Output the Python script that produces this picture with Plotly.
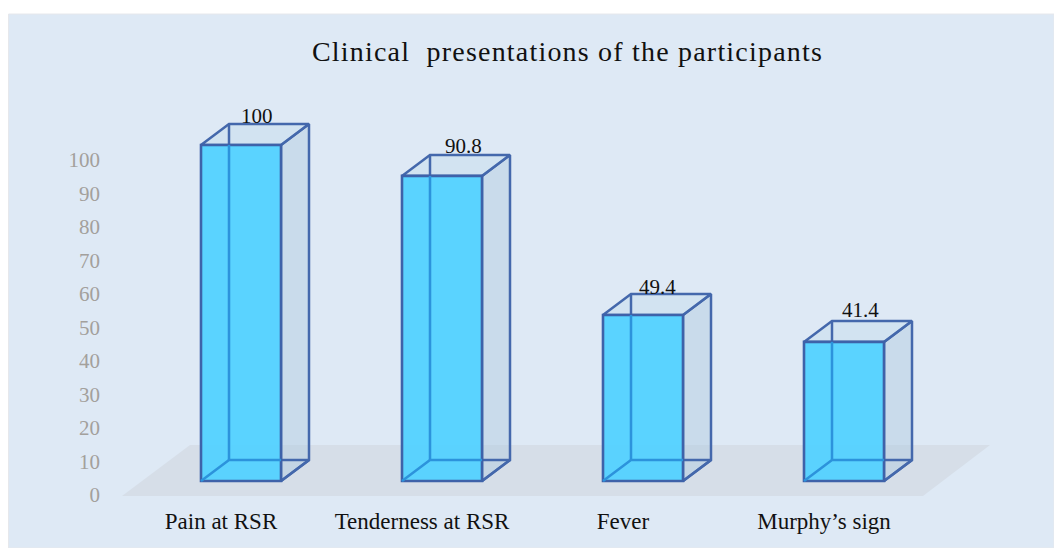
import plotly.graph_objects as go

categories = ["Pain at RSR", "Tenderness at RSR", "Fever", "Murphy’s sign"]
values = [100, 90.8, 49.4, 41.4]
value_labels = ["100", "90.8", "49.4", "41.4"]
y_ticks = [0, 10, 20, 30, 40, 50, 60, 70, 80, 90, 100]

W, H = 1054, 548
PX_X = 201.0      # pixels per category
PX_Y = 3.36       # pixels per value unit
X0 = 241.0        # pixel of first bar centre
Y0 = 481.0        # pixel of value 0
BAR_W = 80 / PX_X
DX = 28 / PX_X    # depth offset, x units
DY = 21 / PX_Y    # depth offset, y units

x_range = [-X0 / PX_X, (W - X0) / PX_X]
y_range = [(Y0 - H) / PX_Y, Y0 / PX_Y]
x_range_ticks = [-(X0 - 20) / PX_X, (W - X0 + 20) / PX_X]
TICK_Y0, TICK_PX = 495.0, 3.35
y_range_ticks = [(TICK_Y0 - H) / TICK_PX, TICK_Y0 / TICK_PX]

EDGE = "#4468AC"
INNER = "#2C93DC"
fig = go.Figure()

# back / side / top faces
for i, v in enumerate(values):
    l, r = i - BAR_W / 2, i + BAR_W / 2
    fig.add_trace(go.Scatter(
        x=[r, r + DX, r + DX, r, r], y=[0, DY, v + DY, v, 0], mode="lines", fill="toself",
        fillcolor="rgba(172,200,222,0.42)", line=dict(color=EDGE, width=2.5), hoverinfo="skip", showlegend=False))
    fig.add_trace(go.Scatter(
        x=[l, l + DX, r + DX, r, l], y=[v, v + DY, v + DY, v, v], mode="lines", fill="toself",
        fillcolor="rgba(195,220,238,0.45)", line=dict(color=EDGE, width=2.5), hoverinfo="skip", showlegend=False))
    fig.add_trace(go.Scatter(
        x=[l + DX, l + DX, None, r, r + DX, None, r, r + DX], y=[v + DY, DY, None, 0, DY, None, DY, DY], mode="lines",
        line=dict(color=EDGE, width=2.5), hoverinfo="skip", showlegend=False))

# front faces
fig.add_trace(go.Bar(
    x=list(range(len(values))), y=values, width=BAR_W, xaxis="x2", yaxis="y2",
    marker=dict(color="rgba(84,209,255,0.96)", line=dict(color="#3E62A9", width=2.6)),
    hoverinfo="skip", showlegend=False))

# back edges seen through the front face
for i, v in enumerate(values):
    l, r = i - BAR_W / 2, i + BAR_W / 2
    fig.add_trace(go.Scatter(
        x=[l + DX, l + DX, None, l, l + DX, r], y=[v, DY, None, 0, DY, DY], mode="lines",
        line=dict(color=INNER, width=2.5), xaxis="x2", yaxis="y2", hoverinfo="skip", showlegend=False))

# tick axes (offset from the bar plane, as in the perspective drawing)
fig.add_trace(go.Scatter(
    x=[0, 3], y=[0, 100], mode="lines", line=dict(color="rgba(0,0,0,0)"),
    xaxis="x3", yaxis="y3", hoverinfo="skip", showlegend=False))

hidden = dict(visible=False, showgrid=False, zeroline=False, fixedrange=True)
fig.update_layout(
    width=W, height=H,
    margin=dict(l=0, r=0, t=0, b=0),
    paper_bgcolor="#FFFFFF", plot_bgcolor="rgba(0,0,0,0)",
    showlegend=False, barmode="overlay",
    xaxis=dict(range=x_range, domain=[0, 1], **hidden),
    yaxis=dict(range=y_range, domain=[0, 1], **hidden),
    xaxis2=dict(range=x_range, domain=[0, 1], overlaying="x", anchor="y2", **hidden),
    yaxis2=dict(range=y_range, domain=[0, 1], overlaying="y", anchor="x2", **hidden),
    xaxis3=dict(range=x_range_ticks, domain=[0, 1], overlaying="x", anchor="free",
                position=1 - 505 / H, side="bottom", tickmode="array",
                tickvals=list(range(len(categories))), ticktext=categories,
                showgrid=False, zeroline=False, showline=False, ticks="", ticklen=0,
                tickfont=dict(family="Liberation Serif", size=23, color="#111111")),
    yaxis3=dict(range=y_range_ticks, domain=[0, 1], overlaying="y", anchor="free",
                position=100 / W, side="left", tickmode="array", tickvals=y_ticks,
                showgrid=False, zeroline=False, showline=False, ticks="",
                tickfont=dict(family="Liberation Serif", size=21, color="#A3A09C")),
    shapes=[
        dict(type="rect", xref="paper", yref="paper", x0=8.5 / W, x1=1.0, y0=0, y1=1 - 14 / H,
             fillcolor="#DEE9F5", line=dict(color="#E6E8EC", width=1), layer="below"),
        dict(type="path", xref="paper", yref="paper", layer="below", line=dict(width=0),
             fillcolor="#D6DEE8",
             path=f"M {122/W} {1-496/H} L {190/W} {1-445/H} L {990/W} {1-445/H} L {923/W} {1-496/H} Z"),
    ],
    title=dict(text="Clinical  presentations of the participants", x=567.5 / W, xanchor="center",
               y=1 - 51 / H, yanchor="middle",
               font=dict(family="Liberation Serif", size=28, color="#111111")),
)

label_dx = [16, 21, 14, 16]
label_dy = [29, 30, 28, 32]
for i, (v, t) in enumerate(zip(values, value_labels)):
    fig.add_annotation(x=i, y=v, xref="x2", yref="y2", text=t, showarrow=False,
                       xshift=label_dx[i], yshift=label_dy[i],
                       font=dict(family="Liberation Serif", size=21, color="#111111"))

post = """
document.body.style.margin = '0';
document.body.style.overflow = 'hidden';
var t = document.querySelector('.gtitle');
if (t) { t.style.letterSpacing = '1.2px'; }
"""
fig.write_html("out.html", config=dict(displayModeBar=False), post_script=post)
